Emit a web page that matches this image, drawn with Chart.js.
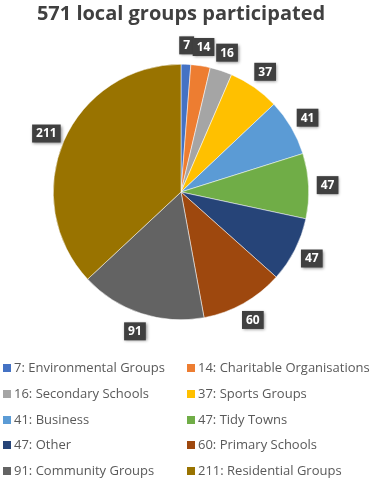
<!DOCTYPE html>
<html>
<head>
<meta charset="utf-8">
<script src="https://cdn.jsdelivr.net/npm/chart.js@4"></script>
<style>
  body { margin: 0; background: #fff; }
  #wrap { position: relative; width: 370px; height: 481px; }
  #legend { position: absolute; left: 0; top: 355px; width: 370px; font-family: "Open Sans", sans-serif; font-size: 13px; color: #595959; }
  .item { position: absolute; white-space: nowrap; line-height: 18px; }
  .box { display: inline-block; width: 8px; height: 8px; margin-right: 3px; vertical-align: 0px; }
</style>
</head>
<body>
<div id="wrap">
  <canvas id="pie" width="370" height="481"></canvas>
  <div id="legend"></div>
</div>
<script>
const groups = ['Environmental Groups', 'Charitable Organisations', 'Secondary Schools', 'Sports Groups',
    'Business', 'Tidy Towns', 'Other', 'Primary Schools', 'Community Groups', 'Residential Groups'];
const counts = [7, 14, 16, 37, 41, 47, 47, 60, 91, 211];
const colors = ['#4472C4', '#ED7D31', '#A5A5A5', '#FFC000', '#5B9BD5',
    '#70AD47', '#264478', '#9E480E', '#636363', '#997300'];

// value boxes outside each slice
const labelBoxes = {
    id: 'labelBoxes',
    afterDatasetsDraw(chart) {
        const ctx = chart.ctx;
        const arcs = chart.getDatasetMeta(0).data;
        ctx.save();
        ctx.font = 'bold 12px "Open Sans", sans-serif';
        ctx.textAlign = 'center';
        ctx.textBaseline = 'middle';
        arcs.forEach((arc, i) => {
            const mid = (arc.startAngle + arc.endAngle) / 2;
            const dist = arc.outerRadius + 19;
            const x = arc.x + Math.cos(mid) * dist;
            const y = arc.y + Math.sin(mid) * dist;
            const text = String(counts[i]);
            const w = ctx.measureText(text).width + 8;
            const h = 18;
            ctx.shadowColor = 'rgba(0,0,0,0.45)';
            ctx.shadowBlur = 3;
            ctx.shadowOffsetX = 1;
            ctx.shadowOffsetY = 1;
            ctx.fillStyle = '#404040';
            ctx.fillRect(x - w / 2, y - h / 2, w, h);
            ctx.shadowColor = 'transparent';
            ctx.fillStyle = '#ffffff';
            ctx.fillText(text, x, y + 0.5);
        });
        ctx.restore();
    }
};

new Chart(document.getElementById('pie'), {
    type: 'pie',
    data: {
        labels: groups,
        datasets: [{
            data: counts,
            backgroundColor: colors,
            borderColor: '#ffffff',
            borderWidth: 0.5
        }]
    },
    options: {
        responsive: false,
        animation: false,
        layout: { padding: { top: 0, bottom: 161, left: 0, right: 8 } },
        plugins: {
            legend: { display: false },
            tooltip: { enabled: false },
            title: {
                display: true,
                text: '571 local groups participated',
                color: '#404040',
                font: { family: '"Open Sans", sans-serif', size: 20, weight: 'bold' },
                padding: { top: 2, bottom: 38 }
            }
        }
    },
    plugins: [labelBoxes]
});

// two-column legend
const legend = document.getElementById('legend');
groups.forEach((g, i) => {
    const div = document.createElement('div');
    div.className = 'item';
    div.style.left = (i % 2 === 0 ? 3 : 187) + 'px';
    div.style.top = (Math.floor(i / 2) * 25.8 + 3) + 'px';
    div.innerHTML = '<span class="box" style="background:' + colors[i] + '"></span>' + counts[i] + ': ' + g;
    legend.appendChild(div);
});
</script>
</body>
</html>
